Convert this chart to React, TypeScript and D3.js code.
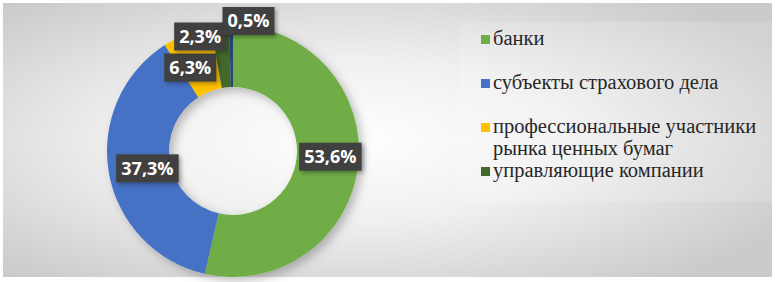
import React from 'react';
import * as d3 from 'd3';

// categories (the 5th slice has no visible legend entry in the source)
const categories = [
  'банки',
  'субъекты страхового дела',
  'профессиональные участники рынка ценных бумаг',
  'управляющие компании',
  'прочие',
];
const shares = [53.6, 37.3, 6.3, 2.3, 0.5];
const colors = ['#70ad47', '#4472c4', '#ffc000', '#43682b', '#264478'];
const legendLines = [
  ['банки'],
  ['субъекты страхового дела'],
  ['профессиональные участники', 'рынка ценных бумаг'],
  ['управляющие компании'],
];

const W = 778;
const H = 282;
const cx = 233;
const cy = 151;
const outerR = 126;
const innerR = 64;

// nudges for the crowded small labels
const labelNudge = [
  [3, -5],
  [8, 1],
  [-8, 5],
  [-23, -20],
  [17, -35],
];

export default function App() {
  const pie = d3.pie<number>().sort(null).value(d => d);
  const arcs = pie(shares);
  const arc = d3.arc<d3.PieArcDatum<number>>().innerRadius(innerR).outerRadius(outerR);
  const labelArc = d3.arc<d3.PieArcDatum<number>>()
    .innerRadius((innerR + outerR) / 2)
    .outerRadius((innerR + outerR) / 2);
  const fmt = (v: number) => v.toFixed(1).replace('.', ',') + '%';

  let ly = 38;
  const legendRows: { lines: string[]; y: number; color: string }[] = [];
  legendLines.forEach((lines, i) => {
    legendRows.push({ lines, y: ly, color: colors[i] });
    ly += 44;
  });

  return (
    <svg width={W} height={H} style={{ position: 'absolute', left: 0, top: 0 }}>
      <defs>
        <radialGradient id="bg" cx="45%" cy="50%" r="65%">
          <stop offset="0%" stopColor="#ffffff" />
          <stop offset="45%" stopColor="#f0f0f0" />
          <stop offset="100%" stopColor="#cbcbcb" />
        </radialGradient>
        <filter id="shadow" x="-20%" y="-20%" width="150%" height="150%">
          <feDropShadow dx="4" dy="4" stdDeviation="5" floodColor="#000" floodOpacity="0.25" />
        </filter>
        <filter id="lshadow" x="-20%" y="-20%" width="150%" height="150%">
          <feDropShadow dx="2" dy="2" stdDeviation="2" floodColor="#000" floodOpacity="0.35" />
        </filter>
      </defs>
      <rect x={0} y={0} width={W} height={H} fill="#fff" />
      <rect x={3} y={3} width={769} height={274} fill="url(#bg)" />
      <rect x={460} y={22} width={312} height={180} fill="#fff" opacity={0.15} />

      <g transform={`translate(${cx},${cy})`} filter="url(#shadow)">
        {arcs.map((a, i) => (
          <path key={i} d={arc(a) || ''} fill={colors[i]} />
        ))}
      </g>

      <g transform={`translate(${cx},${cy})`}>
        {arcs.map((a, i) => {
          const [x, y] = labelArc.centroid(a);
          const px = x + labelNudge[i][0];
          const py = y + labelNudge[i][1];
          const txt = fmt(shares[i]);
          const bw = txt.length * 10.5 + 10;
          return (
            <g key={i} transform={`translate(${px},${py})`}>
              <rect x={-bw / 2} y={-14} width={bw} height={28} fill="#404040" filter="url(#lshadow)" />
              <text
                textAnchor="middle"
                dy="0.36em"
                fill="#fff"
                fontFamily="'Open Sans', sans-serif"
                fontWeight="bold"
                fontSize={18}
              >
                {txt}
              </text>
            </g>
          );
        })}
      </g>

      {legendRows.map((r, i) => (
        <g key={i}>
          <rect x={481} y={r.y - 3} width={9} height={9} fill={r.color} />
          {r.lines.map((l, j) => (
            <text
              key={j}
              x={493}
              y={r.y + j * 22}
              dy="0.35em"
              fill="#262626"
              fontFamily="Liberation Serif"
              fontSize={20.5}
            >
              {l}
            </text>
          ))}
        </g>
      ))}
    </svg>
  );
}
